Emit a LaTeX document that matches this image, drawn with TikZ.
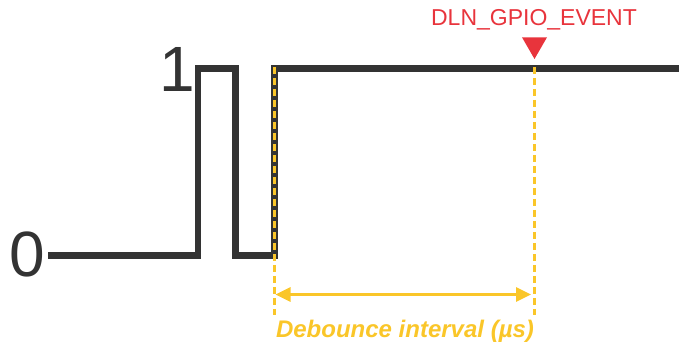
\documentclass[tikz,border=0pt]{standalone}
\usepackage{fontspec}
\setmainfont{Liberation Sans}
\usetikzlibrary{positioning,arrows.meta,shapes.geometric}
\definecolor{sig}{HTML}{333333}
\definecolor{gold}{HTML}{FAC629}
\definecolor{evtred}{HTML}{E8343C}
\tikzset{
  wave/.style={draw=sig, line width=6.5pt, line join=miter},
  lvl/.style={font=\fontsize{64}{64}\selectfont, text=sig, inner sep=0pt},
  guide/.style={draw=gold, line width=3.5pt, dash pattern=on 7pt off 4pt},
  span/.style={draw=gold, line width=3pt, {Triangle[length=15pt,width=14pt]}-{Triangle[length=15pt,width=14pt]}},
  spanlbl/.style={font=\fontsize{24}{24}\selectfont\bfseries\itshape, text=gold, inner sep=0pt},
  evtlbl/.style={font=\fontsize{23}{23}\selectfont, text=evtred, inner sep=0pt},
  marker/.style={regular polygon, regular polygon sides=3, shape border rotate=180,
    fill=evtred, minimum size=28.9pt, inner sep=0pt, outer sep=0pt}
}
\begin{document}
\begin{tikzpicture}[x=1pt, y=1pt]
  \useasboundingbox (0,0) rectangle (679,347);

  % Signal corners
  \coordinate (s0) at (48,91.5);
  \coordinate (s1) at (198,91.5);
  \coordinate (s2) at (198,278.5);
  \coordinate (s3) at (235.5,278.5);
  \coordinate (s4) at (235.5,91.5);
  \coordinate (s5) at (274.5,91.5);
  \coordinate (s6) at (274.5,278.5);
  \coordinate (s7) at (679,278.5);

  % Level labels
  \node[lvl, anchor=base east] (one) at (195,255) {1};
  \node[lvl, anchor=base west] (zero) at (9.5,70) {0};

  % Input signal with bounce
  \draw[wave] (s0) -- (s1) -- (s2) -- (s3) -- (s4) -- (s5) -- (s6) -- (s7);

  % Debounce guides
  \coordinate (g1top) at (274.5,280);
  \coordinate (g1bot) at (274.5,32);
  \coordinate (g2top) at (534.5,280);
  \coordinate (g2bot) at (534.5,32);
  \draw[guide] (g1top) -- (g1bot);
  \draw[guide] (g2top) -- (g2bot);

  % Interval arrow
  \coordinate (a1) at (275.5,52.5);
  \coordinate (a2) at (531,52.5);
  \draw[span] (a1) -- (a2);
  \node[spanlbl, anchor=base] (interval) at (405,9) {Debounce interval (µs)};

  % Event marker
  \node[marker, anchor=corner 1] (mark) at (534.5,288) {};
  \node[evtlbl, anchor=base] (event) at (534,321) {DLN\_GPIO\_EVENT};
\end{tikzpicture}
\end{document}
